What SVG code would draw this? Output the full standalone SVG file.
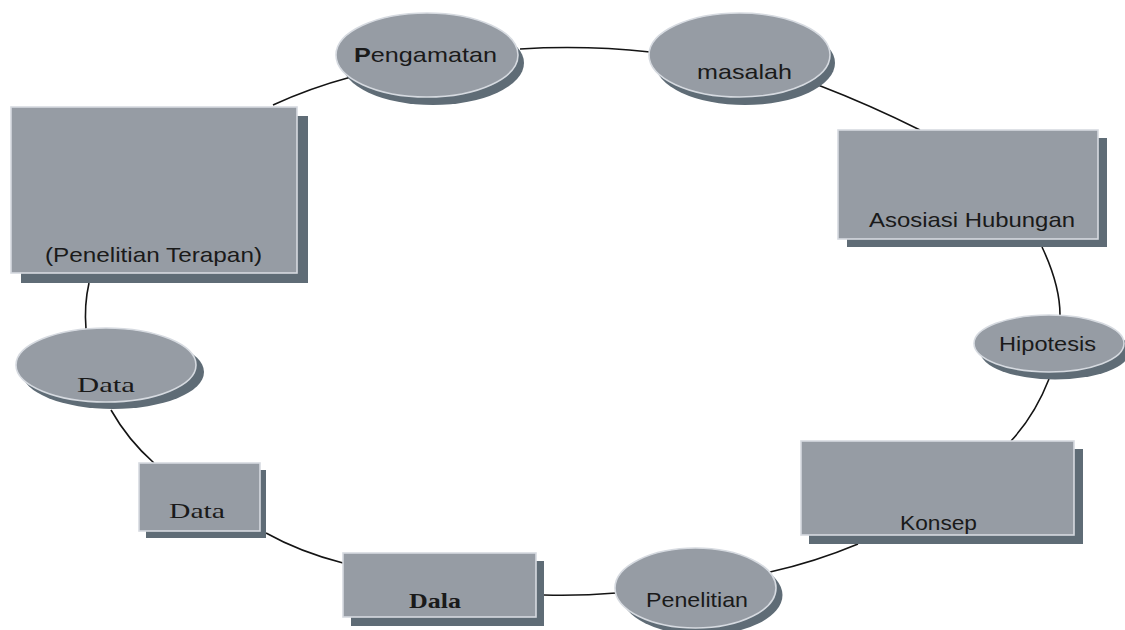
<svg xmlns="http://www.w3.org/2000/svg" width="1125" height="630" viewBox="0 0 1125 630">
<style>
.sh{fill:#5f6c76}
.nd{fill:#969ca4;stroke:#d6dae0;stroke-width:1.6}
.cn{fill:none;stroke:#141414;stroke-width:1.6}
.s{font-family:"Liberation Sans",Arial,sans-serif;font-size:21px;fill:#1a1a1a}
.r{font-family:"Liberation Serif","Times New Roman",serif;font-size:22px;fill:#1a1a1a}
</style>
<rect width="1125" height="630" fill="#ffffff"/>
<g id="connectors">
<path class="cn" d="M273,105 Q310,88 351,77"/>
<path class="cn" d="M520,49 Q585,45 650,52"/>
<path class="cn" d="M818,85 Q870,105 920,130"/>
<path class="cn" d="M1042,247 Q1060,285 1060,315"/>
<path class="cn" d="M1049,379 Q1035,415 1011,441"/>
<path class="cn" d="M858,544 Q815,562 770,572"/>
<path class="cn" d="M616,593 Q580,596 544,595"/>
<path class="cn" d="M266,533 Q300,552 343,563"/>
<path class="cn" d="M111,410 Q128,440 154,463"/>
<path class="cn" d="M86,329 Q84,305 89,283"/>
</g>
<g id="penelitian-terapan">
<rect class="sh" x="21" y="116" width="287" height="167"/>
<rect class="nd" x="11" y="107" width="286" height="166"/>
<text class="s" x="45" y="262" textLength="217" lengthAdjust="spacingAndGlyphs">(Penelitian Terapan)</text>
</g>
<g id="pengamatan">
<ellipse class="sh" cx="433" cy="63" rx="91" ry="42"/>
<ellipse class="nd" cx="427" cy="55" rx="91" ry="42"/>
<text class="s" x="354" y="62" textLength="143" lengthAdjust="spacingAndGlyphs"><tspan font-weight="bold">P</tspan>engamatan</text>
</g>
<g id="masalah">
<ellipse class="sh" cx="745" cy="63" rx="90" ry="42"/>
<ellipse class="nd" cx="739.5" cy="55" rx="90.5" ry="42"/>
<text class="s" x="697" y="79" textLength="95" lengthAdjust="spacingAndGlyphs">masalah</text>
</g>
<g id="asosiasi">
<rect class="sh" x="847" y="138" width="260" height="109"/>
<rect class="nd" x="838" y="130" width="260" height="109"/>
<text class="s" x="869" y="227" textLength="206" lengthAdjust="spacingAndGlyphs">Asosiasi Hubungan</text>
</g>
<g id="hipotesis">
<ellipse class="sh" cx="1055" cy="351" rx="75" ry="28.5"/>
<ellipse class="nd" cx="1049" cy="343.5" rx="75" ry="28.5"/>
<text class="s" x="999" y="351" textLength="97" lengthAdjust="spacingAndGlyphs">Hipotesis</text>
</g>
<g id="konsep">
<rect class="sh" x="809" y="449" width="274" height="95"/>
<rect class="nd" x="801" y="441" width="273" height="94"/>
<text class="s" x="900" y="530" textLength="77" lengthAdjust="spacingAndGlyphs">Konsep</text>
</g>
<g id="penelitian">
<ellipse class="sh" cx="702" cy="595" rx="80.5" ry="40"/>
<ellipse class="nd" cx="695.5" cy="588" rx="80.5" ry="40"/>
<text class="s" x="646" y="607" textLength="102" lengthAdjust="spacingAndGlyphs">Penelitian</text>
</g>
<g id="dala">
<rect class="sh" x="351" y="561" width="193" height="65"/>
<rect class="nd" x="343" y="553" width="193" height="64"/>
<text class="r" x="409" y="608" font-weight="bold" textLength="52" lengthAdjust="spacingAndGlyphs">Dala</text>
</g>
<g id="data-rect">
<rect class="sh" x="146" y="470" width="120" height="68"/>
<rect class="nd" x="139" y="463" width="121" height="68"/>
<text class="r" x="169" y="518" textLength="56" lengthAdjust="spacingAndGlyphs">Data</text>
</g>
<g id="data-ellipse">
<ellipse class="sh" cx="113" cy="372" rx="91" ry="37"/>
<ellipse class="nd" cx="106" cy="365" rx="90" ry="37"/>
<text class="r" x="77" y="392" textLength="58" lengthAdjust="spacingAndGlyphs">Data</text>
</g>
</svg>
